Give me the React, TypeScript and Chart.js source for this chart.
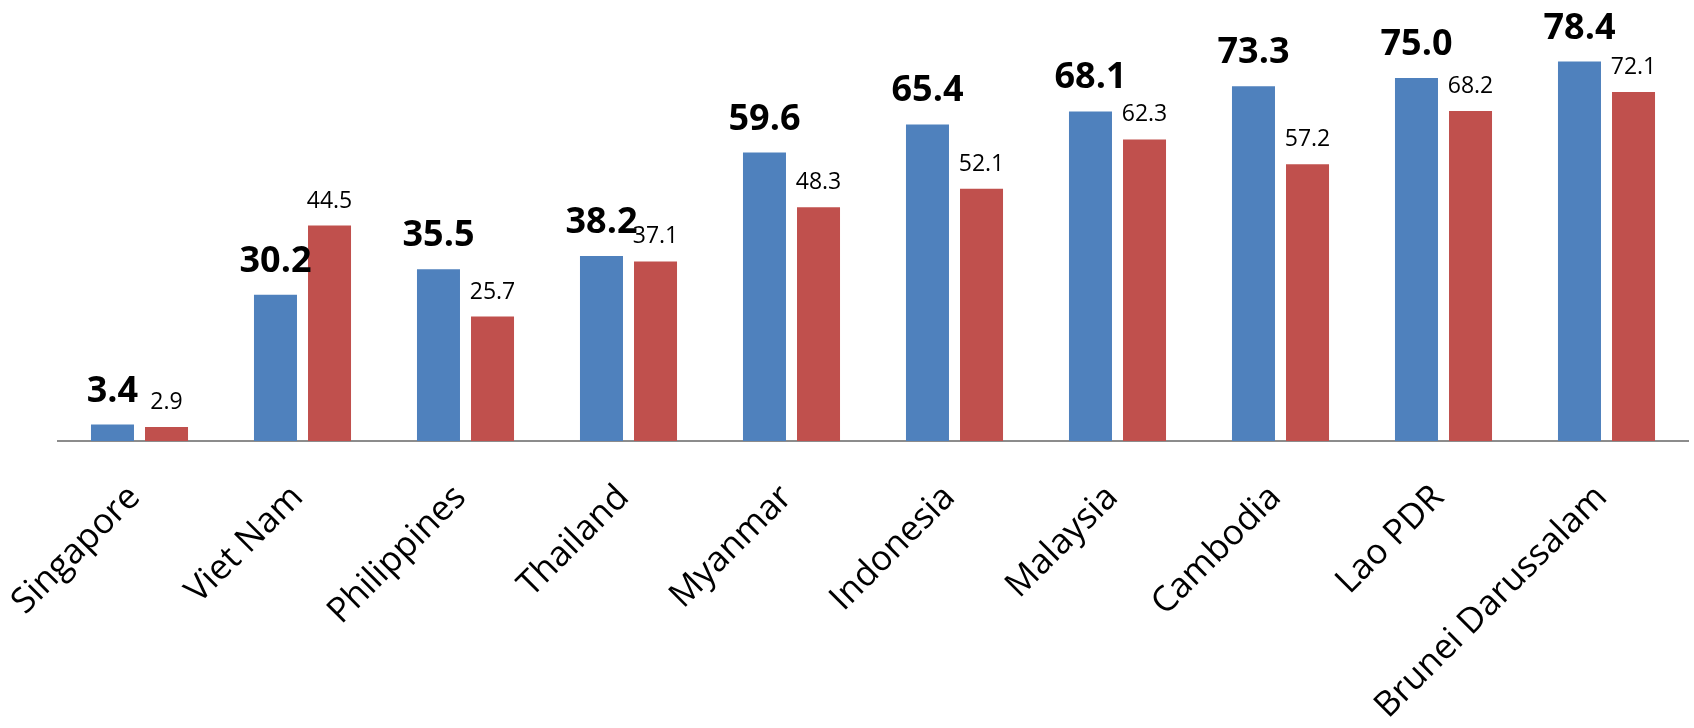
import React, { useEffect, useRef } from "react";
import { Chart, registerables } from "chart.js";

Chart.register(...registerables);

const categories = [
  "Singapore",
  "Viet Nam",
  "Philippines",
  "Thailand",
  "Myanmar",
  "Indonesia",
  "Malaysia",
  "Cambodia",
  "Lao PDR",
  "Brunei Darussalam",
];
const blueValues = [3.4, 30.2, 35.5, 38.2, 59.6, 65.4, 68.1, 73.3, 75.0, 78.4];
const redValues = [2.9, 44.5, 25.7, 37.1, 48.3, 52.1, 62.3, 57.2, 68.2, 72.1];

const FONT = "'Open Sans', 'Liberation Sans', sans-serif";

const labelPlugin = {
  id: "barValueLabels",
  afterDatasetsDraw(chart: any) {
    const ctx = chart.ctx;
    ctx.save();
    ctx.fillStyle = "#000000";
    ctx.textAlign = "center";
    ctx.textBaseline = "alphabetic";
    chart.data.datasets.forEach((ds: any, di: number) => {
      const meta = chart.getDatasetMeta(di);
      meta.data.forEach((bar: any, i: number) => {
        const v = ds.data[i] as number;
        if (di === 0) {
          ctx.font = `bold 36px ${FONT}`;
          ctx.fillText(v.toFixed(1), bar.x, bar.y - 23);
        } else {
          ctx.font = `23px ${FONT}`;
          ctx.fillText(v.toFixed(1), bar.x, bar.y - 18);
        }
      });
    });
    ctx.restore();
  },
};

export default function App() {
  const canvasRef = useRef<HTMLCanvasElement | null>(null);

  useEffect(() => {
    const canvas = canvasRef.current;
    if (!canvas) return;
    const chart = new Chart(canvas, {
      type: "bar",
      data: {
        labels: categories,
        datasets: [
          {
            label: "Series 1",
            data: blueValues,
            backgroundColor: "#4F81BD",
            barPercentage: 0.796,
            categoryPercentage: 0.663,
          },
          {
            label: "Series 2",
            data: redValues,
            backgroundColor: "#C0504D",
            barPercentage: 0.796,
            categoryPercentage: 0.663,
          },
        ],
      },
      options: {
        responsive: false,
        animation: false,
        layout: { padding: { left: 58, right: 6, top: 5.4, bottom: 0 } },
        plugins: {
          legend: { display: false },
          tooltip: { enabled: false },
        },
        scales: {
          x: {
            grid: { display: false, drawTicks: false },
            border: { display: true, color: "#8c8c8c", width: 2 },
            ticks: {
              autoSkip: false,
              maxRotation: 45,
              minRotation: 45,
              padding: 36,
              labelOffset: -5,
              color: "#000000",
              font: { family: FONT, size: 35 },
            },
            afterFit: (scale: any) => {
              scale.height = 287;
              scale.paddingLeft = 0;
              scale.paddingRight = 0;
            },
          },
          y: {
            display: false,
            min: 0,
            max: 90,
          },
        },
      },
      plugins: [labelPlugin],
    });
    return () => chart.destroy();
  }, []);

  return (
    <div style={{ position: "absolute", left: 0, top: 0, width: 1694, height: 728, background: "#ffffff" }}>
      <canvas ref={canvasRef} width={1694} height={728} style={{ display: "block" }} />
    </div>
  );
}
